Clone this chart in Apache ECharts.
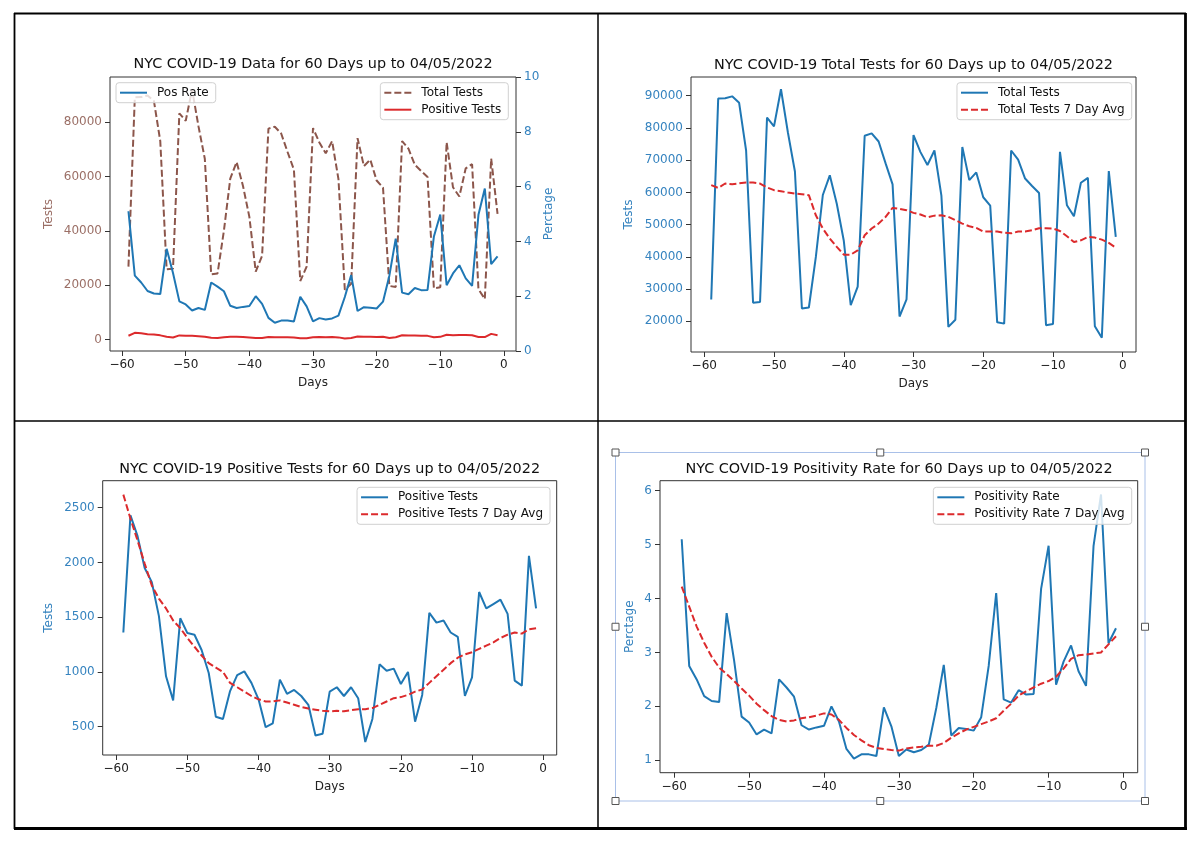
<!DOCTYPE html>
<html><head><meta charset="utf-8">
<script src="https://cdn.jsdelivr.net/npm/echarts@6/dist/echarts.min.js"></script>
<style>html,body{margin:0;padding:0;background:#fff}#c{width:1200px;height:847px}</style>
</head><body><div id="c"></div>
<script>
// ---------------- data ----------------
const days = [-59,-58,-57,-56,-55,-54,-53,-52,-51,-50,-49,-48,-47,-46,-45,-44,-43,-42,-41,-40,
  -39,-38,-37,-36,-35,-34,-33,-32,-31,-30,-29,-28,-27,-26,-25,-24,-23,-22,-21,-20,
  -19,-18,-17,-16,-15,-14,-13,-12,-11,-10,-9,-8,-7,-6,-5,-4,-3,-2,-1];

const totalTests = [26800,89100,89200,89800,87800,73000,25800,26000,83200,80500,
  92000,78500,66500,24000,24300,40000,59200,65300,56500,45100,
  25000,30800,77600,78300,75800,69000,62500,21500,26800,77800,
  72500,68500,73000,59000,18300,20500,74100,63800,66200,58500,
  55900,19700,19300,73000,70200,64300,62000,59800,18800,19200,
  72600,56000,52600,63000,64500,18500,14900,66600,46200];

const totalTestsAvg = [62250,61400,62760,62550,62800,63070,63070,62760,61520,60700,
  60380,59970,59660,59450,59140,52900,48800,45700,43100,40700,
  40700,42050,46700,48800,50340,52400,55200,54900,54500,53650,
  53150,52300,52800,52900,52400,51400,50340,49500,49000,47850,
  47850,47850,47500,47300,47850,47850,48270,48900,48900,48800,
  48050,46400,44640,45150,46200,45980,45360,44330,42880];

const positiveTests = [1360,2430,2240,1950,1820,1510,960,740,1490,1355,
  1340,1200,990,590,570,825,970,1005,900,750,
  495,530,930,800,835,780,700,420,435,820,
  860,780,860,760,360,570,1070,1010,1030,890,
  1000,545,790,1540,1450,1470,1360,1320,780,950,
  1730,1580,1620,1660,1530,920,875,2060,1580];

const positiveTestsAvg = [2620,2400,2200,1990,1790,1670,1580,1470,1400,1310,
  1230,1150,1080,1040,1000,900,860,820,780,750,
  730,730,740,720,700,680,665,655,645,640,
  645,640,650,660,660,670,700,730,760,770,
  790,820,840,900,960,1020,1080,1130,1160,1180,
  1210,1240,1270,1310,1340,1360,1350,1390,1400];

const positivityRate = [5.1,2.75,2.5,2.19,2.1,2.08,3.73,2.85,1.81,1.7,
  1.48,1.57,1.5,2.5,2.35,2.18,1.65,1.57,1.61,1.64,
  2.0,1.72,1.21,1.03,1.11,1.11,1.08,1.98,1.63,1.08,
  1.2,1.15,1.19,1.29,1.97,2.77,1.46,1.6,1.58,1.55,
  1.8,2.75,4.1,2.13,2.07,2.3,2.22,2.23,4.18,4.98,
  2.4,2.83,3.13,2.65,2.38,4.97,5.93,3.17,3.45];

const positivityRateAvg = [4.22,3.85,3.48,3.18,2.92,2.72,2.6,2.47,2.33,2.2,
  2.05,1.93,1.82,1.75,1.72,1.74,1.78,1.8,1.83,1.87,
  1.85,1.75,1.6,1.47,1.37,1.28,1.23,1.21,1.19,1.18,
  1.22,1.24,1.25,1.27,1.27,1.32,1.42,1.5,1.57,1.62,
  1.67,1.72,1.78,1.92,2.05,2.2,2.28,2.35,2.42,2.47,
  2.55,2.7,2.88,2.95,2.96,2.98,3.0,3.15,3.3];

const xTicks = [-60,-50,-40,-30,-20,-10,0];
const testsTicksP1 = [0,20000,40000,60000,80000];
const rateTicksP1 = [0,2,4,6,8,10];
const testsTicksP2 = [20000,30000,40000,50000,60000,70000,80000,90000];
const posTicksP3 = [500,1000,1500,2000,2500];
const rateTicksP4 = [1,2,3,4,5,6];

const titles = [
  'NYC COVID-19 Data for 60 Days up to 04/05/2022',
  'NYC COVID-19 Total Tests for 60 Days up to 04/05/2022',
  'NYC COVID-19 Positive Tests for 60 Days up to 04/05/2022',
  'NYC COVID-19 Positivity Rate for 60 Days up to 04/05/2022'
];

// ---------------- styling ----------------
const FONT = 'DejaVu Sans';
const BLUE = '#1f77b4', RED = '#dc2a2c', BROWN = '#8c564b';
const BLUE_TXT = '#3583bf', BROWN_TXT = '#9b6f66';
const DASH = [7, 3];

function pairs(vals) { return days.map((d, i) => [d, vals[i]]); }
function minusFmt(v) { return v < 0 ? '\u2212' + (-v) : String(v); }
function plainFmt(v) { return String(v); }
function measure(text, size) {
  const ctx = document.createElement('canvas').getContext('2d');
  ctx.font = size + 'px "' + FONT + '"';
  return ctx.measureText(text).width;
}

const grids = [
  {left: 110, top: 77, width: 406, height: 274},
  {left: 691, top: 77, width: 445, height: 275},
  {left: 102.7, top: 480.7, width: 454, height: 274.3},
  {left: 660, top: 480.7, width: 477.7, height: 292}
].map(g => Object.assign({show: true, borderColor: '#333', borderWidth: 1, backgroundColor: 'transparent', containLabel: false, outerBoundsMode: 'none'}, g));

const titleCenters = [[313, 64.5], [913.5, 65], [329.7, 469], [899, 469]];
const TITLE_SIZE = 14.4;
const titleOpts = titles.map((t, i) => ({
  text: t,
  left: titleCenters[i][0] - measure(t, TITLE_SIZE) / 2,
  top: titleCenters[i][1] - TITLE_SIZE / 2,
  padding: 0,
  textStyle: {fontSize: TITLE_SIZE, fontWeight: 'normal', color: '#111', fontFamily: FONT}
}));

function xAxis(gi, withName) {
  const a = {
    type: 'value', gridIndex: gi, min: -61.9, max: 1.9,
    axisLine: {show: false, onZero: false},
    axisTick: {show: true, length: 5, lineStyle: {color: '#333', width: 1}, customValues: xTicks},
    axisLabel: {customValues: xTicks, formatter: minusFmt, color: '#222', fontSize: 12, fontFamily: FONT, margin: 8},
    splitLine: {show: false}
  };
  if (withName) {
    a.name = 'Days'; a.nameLocation = 'middle'; a.nameGap = 26;
    a.nameTextStyle = {fontSize: 12, color: '#222', fontFamily: FONT};
  }
  return a;
}
function yAxis(gi, pos, min, max, ticks, name, gap, txtColor) {
  return {
    type: 'value', gridIndex: gi, position: pos, min: min, max: max,
    axisLine: {show: false, onZero: false},
    axisTick: {show: true, length: 5, lineStyle: {color: '#333', width: 1}, customValues: ticks},
    axisLabel: {customValues: ticks, formatter: plainFmt, color: txtColor, fontSize: 12, fontFamily: FONT, margin: 8},
    splitLine: {show: false},
    name: name, nameLocation: 'middle', nameRotate: 90, nameGap: gap,
    nameTextStyle: {fontSize: 12, color: txtColor, fontFamily: FONT}
  };
}

function line(name, xi, yi, vals, color, dashed, z) {
  return {
    name: name, type: 'line', xAxisIndex: xi, yAxisIndex: yi, data: pairs(vals),
    symbol: 'none', showSymbol: false, silent: true, z: z || 2,
    lineStyle: {color: color, width: 2, type: dashed ? DASH : 'solid'},
    itemStyle: {color: color}
  };
}

const legendBase = {
  orient: 'vertical', itemWidth: 27, itemHeight: 14, itemGap: 5,
  padding: [4, 7, 4, 3], backgroundColor: 'rgba(255,255,255,0.8)',
  borderColor: '#d0d0d0', borderWidth: 1, borderRadius: 3,
  selectedMode: false, itemStyle: {opacity: 0},
  textStyle: {fontSize: 12, color: '#111', fontFamily: FONT, padding: [0, 0, 0, 5]},
  formatter: n => n.trim()
};
const legends = [
  Object.assign({}, legendBase, {left: 116, top: 82.7, data: ['Pos Rate']}),
  Object.assign({}, legendBase, {right: 1200 - 508.3, top: 82.7, data: ['Total Tests', 'Positive Tests']}),
  Object.assign({}, legendBase, {right: 1200 - 1131.7, top: 82.7, data: ['Total Tests ', 'Total Tests 7 Day Avg']}),
  Object.assign({}, legendBase, {right: 1200 - 550, top: 487.3, data: ['Positive Tests ', 'Positive Tests 7 Day Avg']}),
  Object.assign({}, legendBase, {right: 1200 - 1131.7, top: 487.3, data: ['Positivity Rate', 'Positivity Rate 7 Day Avg']})
];

// frame + selection box (decoration)
const selX0 = 615.5, selY0 = 452.5, selX1 = 1145, selY1 = 801;
const handles = [];
[[selX0, selY0], [(selX0 + selX1) / 2, selY0], [selX1, selY0],
 [selX0, (selY0 + selY1) / 2], [selX1, (selY0 + selY1) / 2],
 [selX0, selY1], [(selX0 + selX1) / 2, selY1], [selX1, selY1]].forEach(p => {
  handles.push({type: 'rect', z: 101, shape: {x: p[0] - 3.5, y: p[1] - 3.5, width: 7, height: 7},
    style: {fill: '#fff', stroke: '#555', lineWidth: 1}});
});
const graphics = [
  {type: 'line', z: 100, shape: {x1: 14, y1: 13.5, x2: 1186, y2: 13.5}, style: {stroke: '#000', lineWidth: 1.8}},
  {type: 'line', z: 100, shape: {x1: 14.5, y1: 13, x2: 14.5, y2: 829}, style: {stroke: '#000', lineWidth: 1.8}},
  {type: 'line', z: 100, shape: {x1: 1185.5, y1: 13, x2: 1185.5, y2: 830}, style: {stroke: '#000', lineWidth: 2.8}},
  {type: 'line', z: 100, shape: {x1: 14, y1: 828.5, x2: 1187, y2: 828.5}, style: {stroke: '#000', lineWidth: 2.8}},
  {type: 'line', z: 100, shape: {x1: 598, y1: 13, x2: 598, y2: 829}, style: {stroke: '#000', lineWidth: 1.5}},
  {type: 'line', z: 100, shape: {x1: 14, y1: 421, x2: 1186, y2: 421}, style: {stroke: '#000', lineWidth: 1.5}},
  {type: 'rect', z: 100, shape: {x: selX0, y: selY0, width: selX1 - selX0, height: selY1 - selY0},
    style: {fill: 'none', stroke: '#a9c0e8', lineWidth: 1}}
].concat(handles);

const option = {
  animation: false,
  backgroundColor: '#fff',
  textStyle: {fontFamily: FONT},
  title: titleOpts,
  grid: grids,
  legend: legends,
  xAxis: [xAxis(0, true), xAxis(1, true), xAxis(2, true), xAxis(3, false)],
  yAxis: [
    yAxis(0, 'left', -4250, 96600, testsTicksP1, 'Tests', 55, BROWN_TXT),
    yAxis(0, 'right', 0, 10, rateTicksP1, 'Perctage', 27, BLUE_TXT),
    yAxis(1, 'left', 10500, 95800, testsTicksP2, 'Tests', 56, BLUE_TXT),
    yAxis(2, 'left', 241, 2747, posTicksP3, 'Tests', 48, BLUE_TXT),
    yAxis(3, 'left', 0.77, 6.185, rateTicksP4, 'Perctage', 24, BLUE_TXT)
  ],
  series: [
    line('Total Tests', 0, 0, totalTests, BROWN, true, 2),
    line('Positive Tests', 0, 0, positiveTests, RED, false, 2),
    line('Pos Rate', 0, 1, positivityRate, BLUE, false, 3),
    line('Total Tests ', 1, 2, totalTests, BLUE, false, 2),
    line('Total Tests 7 Day Avg', 1, 2, totalTestsAvg, RED, true, 3),
    line('Positive Tests ', 2, 3, positiveTests, BLUE, false, 2),
    line('Positive Tests 7 Day Avg', 2, 3, positiveTestsAvg, RED, true, 3),
    line('Positivity Rate', 3, 4, positivityRate, BLUE, false, 2),
    line('Positivity Rate 7 Day Avg', 3, 4, positivityRateAvg, RED, true, 3)
  ],
  graphic: graphics
};

const chart = echarts.init(document.getElementById('c'), null, {renderer: 'canvas'});
chart.setOption(option);
</script>
</body></html>
